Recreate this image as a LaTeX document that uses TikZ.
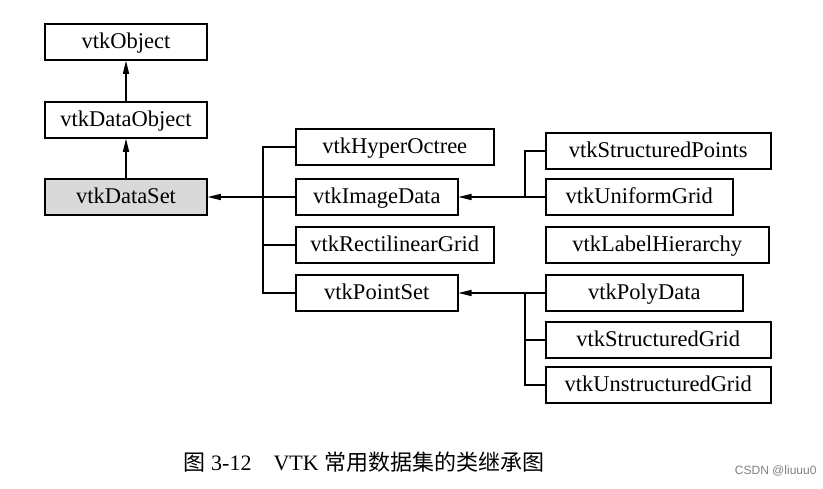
\documentclass[tikz,border=0pt]{standalone}
\usepackage{fontspec}
\setmainfont{Liberation Serif}
\setsansfont{Liberation Sans}
\newfontfamily\cjk{Noto Sans CJK SC}
\usetikzlibrary{arrows.meta}
\begin{document}
\begin{tikzpicture}
   [x=1pt, y=-1pt,
   classbox/.style={draw, line width=1.5pt, minimum height=36pt, inner sep=0pt,
     text height=17pt, text depth=5pt, font=\fontsize{22.5}{22.5}\selectfont},
   basebox/.style={classbox, fill=gray!30},
   link/.style={line width=1.3pt},
   inherit/.style={link, -{Triangle[length=13pt,width=6pt]}}]
    \useasboundingbox (0,0) rectangle (823,488);
    % left column
    \node[classbox, minimum width=162pt] (object) at (126,42) {vtkObject};
    \node[classbox, minimum width=162pt] (dataobject) at (126,120) {vtkDataObject};
    \node[basebox, minimum width=162pt] (dataset) at (126,197) {vtkDataSet};
    \draw[inherit] (dataobject) -- (object);
    \draw[inherit] (dataset) -- (dataobject);
    % middle column
    \node[classbox, minimum width=198pt, anchor=west] (hyper) at (295,147) {vtkHyperOctree};
    \node[classbox, minimum width=162pt, anchor=west] (image) at (295,197) {vtkImageData};
    \node[classbox, minimum width=198pt, anchor=west] (rectgrid) at (295,245) {vtkRectilinearGrid};
    \node[classbox, minimum width=162pt, anchor=west] (pointset) at (295,293) {vtkPointSet};
    \coordinate (busA) at (263,0);
    \draw[link] (hyper.west) -| (busA |- pointset.west) -- (pointset.west);
    \draw[link] (image.west) -- (busA |- image.west);
    \draw[link] (rectgrid.west) -- (busA |- rectgrid.west);
    \draw[inherit] (busA |- dataset.east) -- (dataset.east);
    % right column
    \node[classbox, minimum width=225pt, anchor=west] (structpts) at (545,151) {vtkStructuredPoints};
    \node[classbox, minimum width=187pt, anchor=west] (uniform) at (545,197) {vtkUniformGrid};
    \node[classbox, minimum width=223pt, anchor=west] (label) at (545,245) {vtkLabelHierarchy};
    \node[classbox, minimum width=197pt, anchor=west] (poly) at (545,293) {vtkPolyData};
    \node[classbox, minimum width=225pt, anchor=west] (structgrid) at (545,340) {vtkStructuredGrid};
    \node[classbox, minimum width=225pt, anchor=west] (unstruct) at (545,385) {vtkUnstructuredGrid};
    \coordinate (busB) at (525,0);
    \draw[link] (structpts.west) -| (busB |- uniform.west);
    \draw[inherit] (uniform.west) -- (image.east);
    \draw[link] (structgrid.west) -- (busB |- structgrid.west);
    \draw[link] (unstruct.west) -| (busB |- poly.west);
    \draw[inherit] (poly.west) -- (pointset.east);
    % caption
    \node[font=\fontsize{22}{22}\selectfont] (caption) at (364,462)
      {{\cjk 图} 3-12\quad VTK {\cjk 常用数据集的类继承图}};
    \node[font=\sffamily\fontsize{12}{12}\selectfont, text=gray, anchor=east] (mark) at (820,471) {CSDN @liuuu0};
\end{tikzpicture}
\end{document}
